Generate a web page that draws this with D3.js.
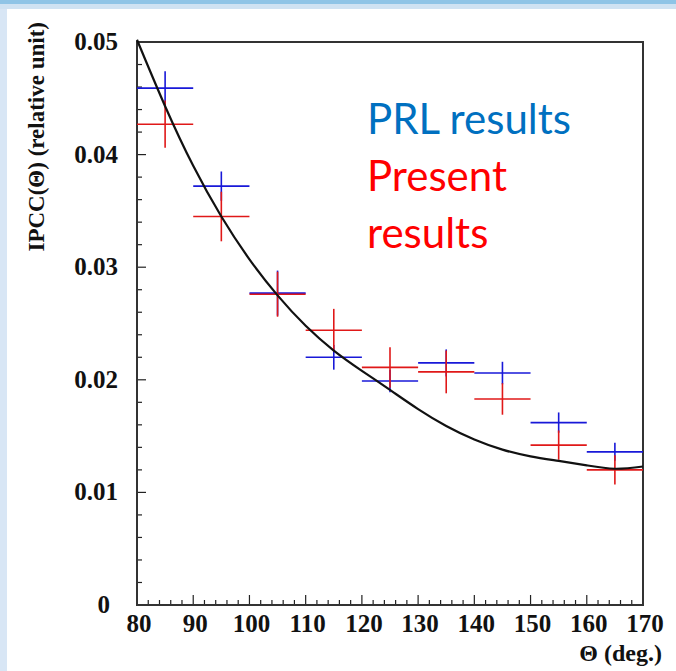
<!DOCTYPE html>
<html>
<head>
<meta charset="utf-8">
<script src="https://cdn.jsdelivr.net/npm/d3@7"></script>
<style>
  body { margin: 0; background: #fff; }
  svg { display: block; }
  .tick-label { font-family: "Liberation Serif", "DejaVu Serif", serif; font-weight: bold; font-size: 25px; fill: #111; }
  .axis-title { font-family: "Liberation Serif", "DejaVu Serif", serif; font-weight: bold; font-size: 23px; fill: #111; }
  .note { font-family: Lato, "Open Sans", sans-serif; font-size: 42px; }
</style>
</head>
<body>
<svg id="chart" width="676" height="671"></svg>
<script>
// bins are 10 deg wide, centred on these angles
var angles = [85, 95, 105, 115, 125, 135, 145, 155, 165];

// PRL results (blue)
var prlValues = [0.0459, 0.0372, 0.0277, 0.0220, 0.0199, 0.0215, 0.0206, 0.0162, 0.0136];
var prlErrors = [0.0015, 0.0013, 0.0020, 0.0011, 0.0010, 0.0012, 0.0010, 0.0009, 0.0008];

// present results (red)
var presentValues = [0.0427, 0.0345, 0.0276, 0.0244, 0.0211, 0.0207, 0.0183, 0.0142, 0.0120];
var presentErrors = [0.0021, 0.0022, 0.0020, 0.0019, 0.0018, 0.0019, 0.0014, 0.0013, 0.0013];

// the fitted curve
var curveAngles = [80, 85, 90, 95, 100, 105, 110, 115, 120, 125, 130, 135, 140, 145, 150, 155, 160, 165, 170];
var curveValues = [0.0502, 0.0443, 0.0390, 0.0345, 0.0307, 0.0275, 0.0248, 0.0226, 0.0208, 0.0191, 0.0174, 0.0159, 0.0147, 0.0138, 0.0132, 0.0128, 0.0124, 0.0121, 0.0123];

var xTicks = [80, 90, 100, 110, 120, 130, 140, 150, 160, 170];
var yTicks = [0, 0.01, 0.02, 0.03, 0.04, 0.05];
var yTickLabels = ["0", "0.01", "0.02", "0.03", "0.04", "0.05"];

var noteLines = [
    {text: "PRL results", color: "#0070c0"},
    {text: "Present", color: "#ff0000"},
    {text: "results", color: "#ff0000"}
];

var svg = d3.select("#chart");

// slide background around the picture
svg.append("rect").attr("x", 0).attr("y", 0).attr("width", 676).attr("height", 671).attr("fill", "#d8e6f5");
svg.append("rect").attr("x", 0).attr("y", 0).attr("width", 676).attr("height", 4).attr("fill", "#8fc4e6");
svg.append("rect").attr("x", 0).attr("y", 4).attr("width", 676).attr("height", 5).attr("fill", "#cfe2f2");
svg.append("rect").attr("x", 7).attr("y", 9).attr("width", 669).attr("height", 662).attr("fill", "#fff");

var x = d3.scaleLinear().domain([80, 170]).range([137, 643]);
var y = d3.scaleLinear().domain([0, 0.05]).range([605, 42]);

var g = svg.append("g");

// ticks inside the frame, minor every 2 deg / 0.002
var xMinor = d3.range(80, 170.1, 2);
var yMinor = d3.range(0, 0.0501, 0.002);
g.selectAll(".xminor").data(xMinor).enter().append("line")
    .attr("x1", function(d) { return x(d); })
    .attr("x2", function(d) { return x(d); })
    .attr("y1", y(0))
    .attr("y2", function(d, i) { return i % 5 === 0 ? y(0) - 10 : y(0) - 5; })
    .attr("stroke", "#222").attr("stroke-width", 1.2);
g.selectAll(".yminor").data(yMinor).enter().append("line")
    .attr("y1", function(d) { return y(d); })
    .attr("y2", function(d) { return y(d); })
    .attr("x1", x(80))
    .attr("x2", function(d, i) { return i % 5 === 0 ? x(80) + 9 : x(80) + 5; })
    .attr("stroke", "#222").attr("stroke-width", 1.2);

// frame
g.append("rect")
    .attr("x", x(80)).attr("y", y(0.05))
    .attr("width", x(170) - x(80)).attr("height", y(0) - y(0.05))
    .attr("fill", "none").attr("stroke", "#333").attr("stroke-width", 2);

// tick labels
g.selectAll(".xlab").data(xTicks).enter().append("text")
    .attr("class", "tick-label")
    .attr("x", function(d) { return x(d) + 2; })
    .attr("y", 632)
    .attr("text-anchor", "middle")
    .text(function(d) { return d; });
g.selectAll(".ylab").data(yTicks).enter().append("text")
    .attr("class", "tick-label")
    .attr("x", function(d) { return d === 0 ? 110 : 118; })
    .attr("y", function(d) { return y(d) + 8; })
    .attr("text-anchor", "end")
    .text(function(d, i) { return yTickLabels[i]; });

// axis titles
g.append("text").attr("class", "axis-title")
    .attr("transform", "translate(44,22) rotate(-90)")
    .attr("text-anchor", "end")
    .text("IPCC(\u0398) (relative unit)");
g.append("text").attr("class", "axis-title")
    .attr("x", 662).attr("y", 661)
    .attr("text-anchor", "end")
    .style("font-size", "24px")
    .text("\u0398 (deg.)");

// error crosses
function drawSeries(values, errors, color) {
    var pts = angles.map(function(a, i) { return {a: a, v: values[i], e: errors[i]}; });
    var s = g.append("g").attr("stroke", color).attr("stroke-width", 1.6);
    s.selectAll(".h").data(pts).enter().append("line")
        .attr("x1", function(d) { return x(d.a - 5); })
        .attr("x2", function(d) { return x(d.a + 5); })
        .attr("y1", function(d) { return y(d.v); })
        .attr("y2", function(d) { return y(d.v); });
    s.selectAll(".v").data(pts).enter().append("line")
        .attr("x1", function(d) { return x(d.a); })
        .attr("x2", function(d) { return x(d.a); })
        .attr("y1", function(d) { return y(d.v - d.e); })
        .attr("y2", function(d) { return y(d.v + d.e); });
}
drawSeries(prlValues, prlErrors, "#1818d8");
drawSeries(presentValues, presentErrors, "#e01818");

// fit curve
var line = d3.line()
    .x(function(d) { return x(d[0]); })
    .y(function(d) { return y(d[1]); })
    .curve(d3.curveNatural);
g.append("path")
    .datum(curveAngles.map(function(a, i) { return [a, curveValues[i]]; }))
    .attr("d", line)
    .attr("fill", "none")
    .attr("stroke", "#111")
    .attr("stroke-width", 2.2);

// the note written on the slide
g.selectAll(".note").data(noteLines).enter().append("text")
    .attr("class", "note")
    .attr("x", 367)
    .attr("y", function(d, i) { return 134 + i * 57; })
    .attr("fill", function(d) { return d.color; })
    .text(function(d) { return d.text; });
</script>
</body>
</html>
